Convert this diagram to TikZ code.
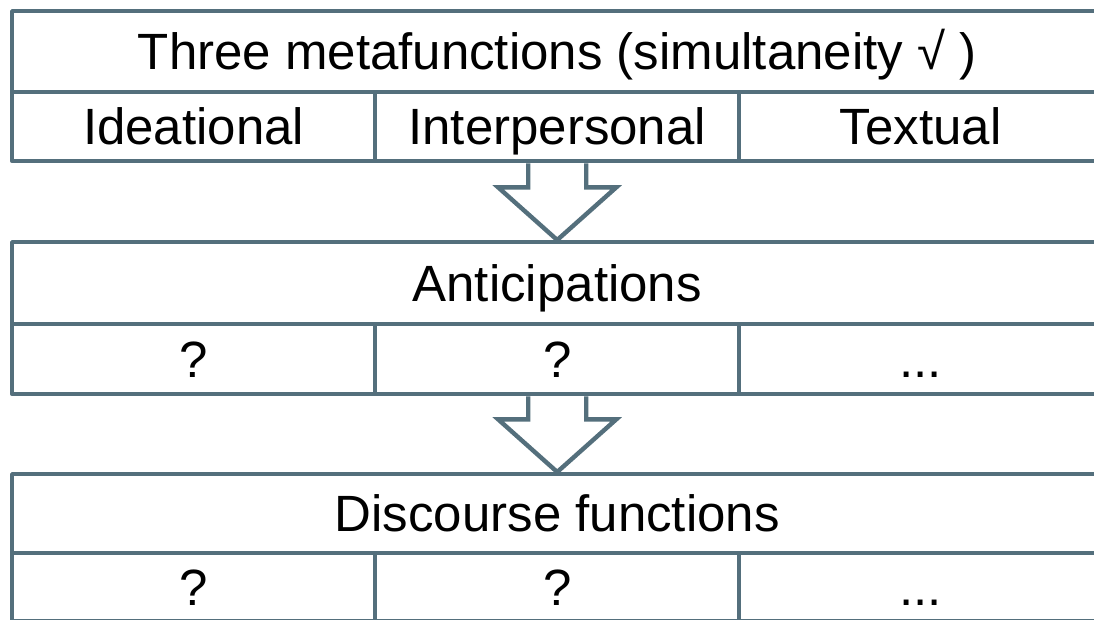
\documentclass[tikz,border=0pt]{standalone}
\usepackage{fontspec}
\setmainfont{Liberation Sans}
\usetikzlibrary{calc}
\definecolor{rulecol}{RGB}{84,111,124}
\begin{document}
\begin{tikzpicture}[x=1pt,y=-1pt,
  cell/.style={draw=rulecol, line width=4.4pt, line join=round, rectangle,
    inner sep=0pt, anchor=north west, align=center,
    font=\fontsize{51}{60}\selectfont, text height=36.5pt, text depth=0pt},
  blockarrow/.style={draw=rulecol, line width=4.4pt, line join=miter}]
\useasboundingbox (0,0) rectangle (1094,620);
\fill[white] (0,0) rectangle (1094,620);

% table 1: the three metafunctions
\node[cell, minimum width=1090pt, minimum height=81pt] (t1head) at (10,9) {Three metafunctions (simultaneity √ )};
\node[cell, minimum width=363pt, minimum height=69pt] (t1a) at (10,90) {Ideational};
\node[cell, minimum width=364pt, minimum height=69pt] (t1b) at (373,90) {Interpersonal};
\node[cell, minimum width=363pt, minimum height=69pt] (t1c) at (737,90) {Textual};

% table 2: anticipations
\node[cell, minimum width=1090pt, minimum height=82pt] (t2head) at (10,240) {Anticipations};
\node[cell, minimum width=363pt, minimum height=70pt] (t2a) at (10,322) {?};
\node[cell, minimum width=364pt, minimum height=70pt] (t2b) at (373,322) {?};
\node[cell, minimum width=363pt, minimum height=70pt] (t2c) at (737,322) {...};

% table 3: discourse functions
\node[cell, minimum width=1090pt, minimum height=79pt] (t3head) at (10,472) {Discourse functions};
\node[cell, minimum width=363pt, minimum height=68pt] (t3a) at (10,551) {?};
\node[cell, minimum width=364pt, minimum height=68pt] (t3b) at (373,551) {?};
\node[cell, minimum width=363pt, minimum height=68pt] (t3c) at (737,551) {...};

% block arrows between the tables
\draw[blockarrow] ($(t1b.south)+(-29,0)$) -- ++(0,24) -- ++(-30,0) -- (t2head.north)
  -- ($(t1b.south)+(59,24)$) -- ++(-30,0) -- ++(0,-24);
\draw[blockarrow] ($(t2b.south)+(-29,0)$) -- ++(0,23) -- ++(-30,0) -- (t3head.north)
  -- ($(t2b.south)+(59,23)$) -- ++(-30,0) -- ++(0,-23);
\end{tikzpicture}
\end{document}
